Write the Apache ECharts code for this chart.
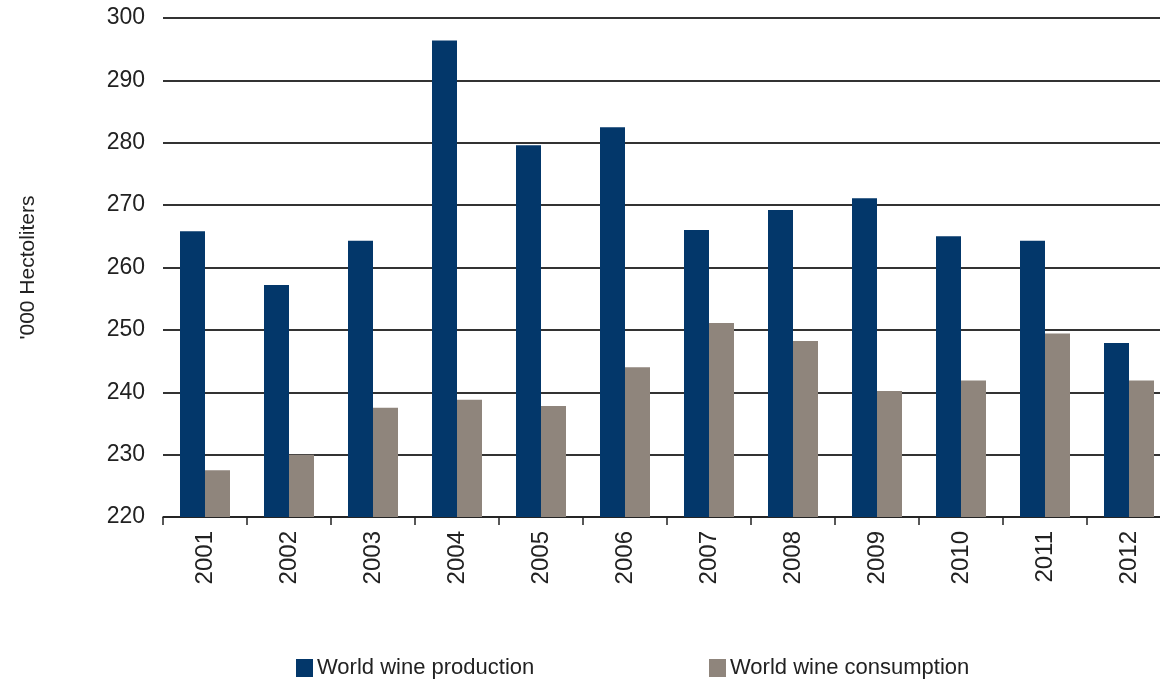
<!DOCTYPE html>
<html>
<head>
<meta charset="utf-8">
<script src="https://cdn.jsdelivr.net/npm/echarts@6/dist/echarts.min.js"></script>
<style>
html,body{margin:0;padding:0;background:#fff;overflow:hidden;width:1160px;height:681px;}
#c{width:1172px;height:681px;}
</style>
</head>
<body>
<div id="c"></div>
<script>
const years = ['2001','2002','2003','2004','2005','2006','2007','2008','2009','2010','2011','2012'];
const production = [265.8, 257.2, 264.3, 296.4, 279.6, 282.5, 266.0, 269.2, 271.1, 265.0, 264.3, 247.9];
const consumption = [227.5, 230.0, 237.5, 238.8, 237.8, 244.0, 251.1, 248.2, 240.2, 241.9, 249.4, 241.9];
const seriesNames = ['World wine production', 'World wine consumption'];
const yTitle = "'000 Hectoliters";

const chart = echarts.init(document.getElementById('c'));
const font = 'Liberation Sans, Arial, sans-serif';
const legendText = {fontFamily: font, fontSize: 22, color: '#222', padding: [0,0,0,-1]};
chart.setOption({
  animation: false,
  textStyle: {fontFamily: font},
  grid: {left: 163, top: 18, right: 1, bottom: 164, containLabel: false},
  legend: [
    {left: 291, top: 652, itemWidth: 17, itemHeight: 18, icon: 'rect',
     textStyle: legendText, data: [seriesNames[0]]},
    {left: 704, top: 652, itemWidth: 17, itemHeight: 18, icon: 'rect',
     textStyle: legendText, data: [seriesNames[1]]}
  ],
  xAxis: {
    type: 'category',
    data: years,
    axisLine: {lineStyle: {color: '#222', width: 1.5}},
    axisTick: {show: true, length: 8, lineStyle: {color: '#222', width: 1.5}},
    axisLabel: {rotate: 90, margin: 14, fontSize: 24, color: '#222', fontFamily: font}
  },
  yAxis: {
    type: 'value',
    min: 220, max: 300, interval: 10,
    name: yTitle,
    nameLocation: 'middle',
    nameGap: 124,
    nameRotate: 90,
    nameTextStyle: {fontSize: 21, color: '#222', fontFamily: font},
    axisLine: {show: false},
    axisTick: {show: false},
    axisLabel: {fontSize: 23, color: '#222', margin: 18, fontFamily: font},
    splitLine: {lineStyle: {color: '#333', width: 1.8}}
  },
  series: [
    {name: seriesNames[0], type: 'bar', data: production, barWidth: 25, barGap: '0%',
     itemStyle: {color: '#03376a'}},
    {name: seriesNames[1], type: 'bar', data: consumption, barWidth: 25, barGap: '0%',
     itemStyle: {color: '#8f857c'}}
  ]
});
</script>
</body>
</html>
